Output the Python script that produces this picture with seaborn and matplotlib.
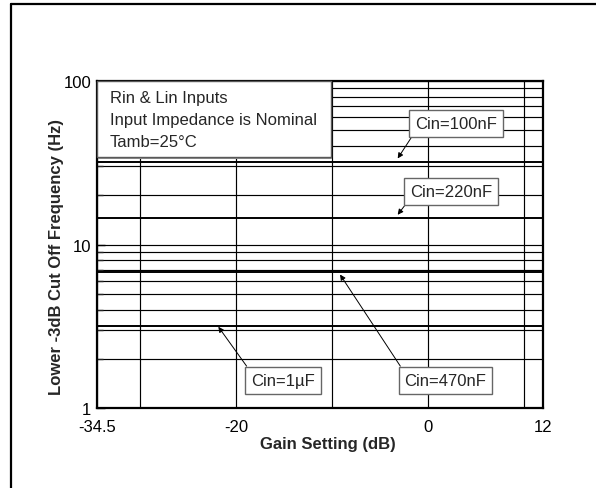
import numpy as np
import pandas as pd
import matplotlib
matplotlib.use("Agg")
import matplotlib.pyplot as plt
from matplotlib.lines import Line2D
from matplotlib.patches import Rectangle
from matplotlib.ticker import FixedLocator, FixedFormatter, NullFormatter
import seaborn as sns

# ---- data ----
gain_db = [-34.5, 12]
series_names = ["Cin=100nF", "Cin=220nF", "Cin=470nF", "Cin=1µF"]
cutoff_100nF = [31.8, 31.8]
cutoff_220nF = [14.47, 14.47]
cutoff_470nF = [6.77, 6.77]
cutoff_1uF = [3.18, 3.18]
x_ticks = [-34.5, -20, 0, 12]
x_tick_labels = ["-34.5", "-20", "0", "12"]
x_grid_extra = [-30, -10, 10]
y_ticks = [1, 10, 100]
y_tick_labels = ["1", "10", "100"]
note_lines = ["Rin & Lin Inputs", "Input Impedance is Nominal", "Tamb=25°C"]

df = pd.DataFrame({
    "gain": gain_db * 4,
    "freq": cutoff_100nF + cutoff_220nF + cutoff_470nF + cutoff_1uF,
    "series": [s for s in series_names for _ in gain_db],
})

sns.set_style("ticks")
plt.rcParams["font.family"] = ["Liberation Sans", "DejaVu Sans"]
FS = 12

fig = plt.figure(figsize=(5.96, 4.89), dpi=100)
ax = fig.add_axes([97 / 596, 1 - 409 / 489, 446 / 596, 327 / 489])

sns.lineplot(data=df, x="gain", y="freq", hue="series",
             palette=["black"] * 4, legend=False, lw=1.4, ax=ax, zorder=3)

ax.set_yscale("log")
ax.set_xlim(-34.5, 12)
ax.set_ylim(1, 100)

ax.xaxis.set_major_locator(FixedLocator(x_ticks))
ax.xaxis.set_major_formatter(FixedFormatter(x_tick_labels))
ax.xaxis.set_minor_locator(FixedLocator(x_grid_extra))
ax.yaxis.set_major_locator(FixedLocator(y_ticks))
ax.yaxis.set_major_formatter(FixedFormatter(y_tick_labels))
ax.yaxis.set_minor_locator(FixedLocator([m * d for d in (1, 10) for m in range(2, 10)]))
ax.yaxis.set_minor_formatter(NullFormatter())

ax.grid(True, which="both", color="black", lw=0.85)
ax.tick_params(axis="x", which="both", length=0, labelsize=FS, pad=8, colors="black")
ax.tick_params(axis="y", which="major", direction="in", length=6, width=1, labelsize=FS, pad=4, colors="black")
ax.tick_params(axis="y", which="minor", direction="in", length=4, width=1)
for sp in ax.spines.values():
    sp.set_color("black")
    sp.set_linewidth(1.6)
    sp.set_zorder(5)

ax.set_xlabel("Gain Setting (dB)", fontsize=FS, fontweight="bold")
ax.set_ylabel("Lower -3dB Cut Off Frequency (Hz)", fontsize=FS, fontweight="bold")
ax.xaxis.set_label_coords(0.518, -0.085)
ax.yaxis.set_label_coords(-0.075, 0.465)

# note box (top-left)
ax.add_patch(Rectangle((0.003, 0.762), 0.524, 0.238, transform=ax.transAxes,
                       fc="0.55", ec="none", zorder=6, clip_on=False))
ax.add_patch(Rectangle((0.0, 0.7676), 0.524, 0.2324, transform=ax.transAxes,
                       fc="white", ec="0.35", lw=1.0, zorder=7, clip_on=False))
for i, line in enumerate(note_lines):
    ax.text(13 / 446, (409 - (103.3 + 22 * i)) / 327, line, transform=ax.transAxes,
            fontsize=FS, va="baseline", ha="left", zorder=8)

# annotations
bbox = dict(boxstyle="square,pad=0.36", fc="white", ec="0.4", lw=1.0)
ann = [
    ("Cin=100nF", (2.95, 54.6), (-3.15, 33.6), (0, 0)),
    ("Cin=220nF", (2.41, 21.2), (-3.15, 15.2), (0, 0)),
    ("Cin=470nF", (1.84, 1.48), (-9.16, 6.55), (0, 1)),
    ("Cin=1µF", (-15.09, 1.48), (-21.85, 3.14), (0, 1)),
]
for txt, tpos, tip, rp in ann:
    ax.annotate(txt, xy=tip, xytext=tpos, fontsize=FS, ha="center", va="center",
                bbox=bbox, zorder=9,
                arrowprops=dict(arrowstyle="-|>", color="black", lw=0.7,
                                mutation_scale=8, shrinkA=0, shrinkB=0, relpos=rp))

# outer frame (top and left)
fig.add_artist(Line2D([11 / 596, 1.0], [1 - 5 / 489, 1 - 5 / 489], color="black", lw=1.6))
fig.add_artist(Line2D([11 / 596, 11 / 596], [0, 1 - 5 / 489], color="black", lw=1.6))

fig.savefig("out.png", dpi=100, facecolor="white")
